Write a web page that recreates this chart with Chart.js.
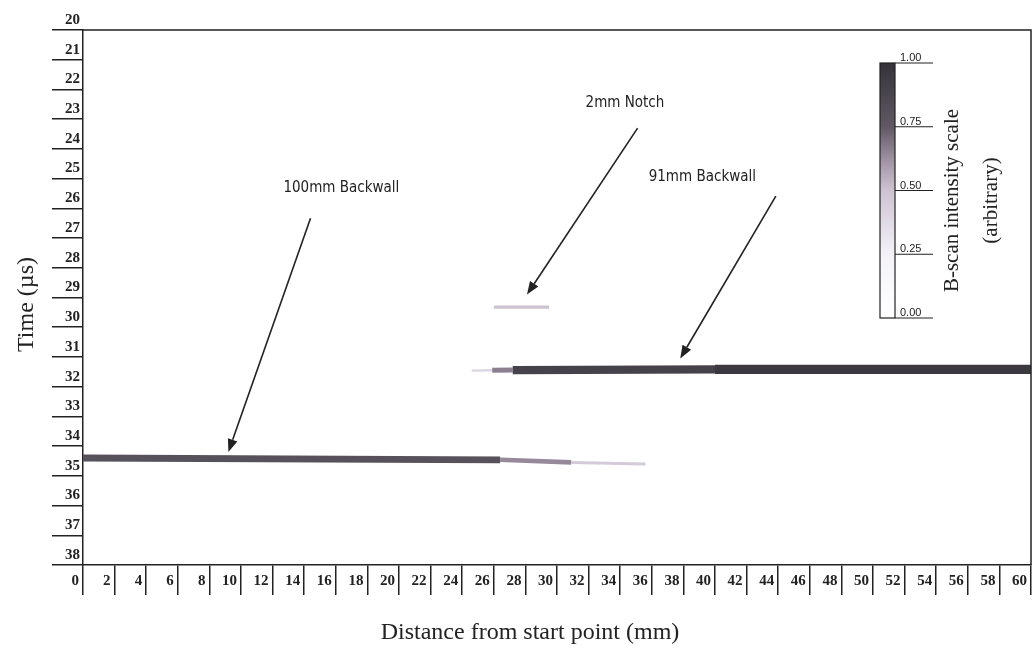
<!DOCTYPE html>
<html>
<head>
<meta charset="utf-8">
<script src="https://cdn.jsdelivr.net/npm/chart.js@4.4.1/dist/chart.umd.min.js"></script>
<style>
  html, body { margin: 0; padding: 0; background: #fff; }
  #wrap { width: 1036px; height: 657px; }
</style>
</head>
<body>
<div id="wrap"><canvas id="bscan"></canvas></div>
<script>
// axis ticks
const distTicks = [0,2,4,6,8,10,12,14,16,18,20,22,24,26,28,30,32,34,36,38,40,42,44,46,48,50,52,54,56,58,60];
const timeTicks = [20,21,22,23,24,25,26,27,28,29,30,31,32,33,34,35,36,37,38];
const intensityTicks = [0, 0.25, 0.5, 0.75, 1];
const intensityLabels = ['0.00', '0.25', '0.50', '0.75', '1.00'];

// echoes: distance (mm), time (us), intensity of each segment
const wall100Dist = [0, 26.4, 30.9, 35.6];
const wall100Time = [34.40, 34.46, 34.55, 34.60];
const wall100Amp = [0.8, 0.64, 0.46];

const wall91Dist = [24.6, 25.9, 27.2, 40.0, 60.0];
const wall91Time = [31.46, 31.45, 31.44, 31.42, 31.42];
const wall91Amp = [0.4, 0.66, 0.9, 0.96];

const notchDist = [26.0, 29.5];
const notchTime = [29.32, 29.32];
const notchAmp = [0.5];

// annotations: label position, arrow start, arrow tip (mm, us)
const noteText = ['100mm Backwall', '2mm Notch', '91mm Backwall'];
const noteAt = [[16.35, 25.32], [34.3, 22.46], [39.2, 24.95]];
const noteFrom = [[14.4, 26.33], [35.1, 23.3], [43.85, 25.59]];
const noteTo = [[9.2, 34.2], [28.1, 28.9], [37.8, 31.05]];

// grey/violet colour map of the B-scan
const cmapStops = [
  [0, [255, 255, 255]],
  [0.25, [244, 242, 248]],
  [0.5, [205, 195, 211]],
  [0.62, [160, 146, 164]],
  [0.75, [96, 88, 100]],
  [1, [52, 51, 56]]
];
function cmap(v) {
  for (let i = 1; i < cmapStops.length; i++) {
    if (v <= cmapStops[i][0]) {
      const [a, ca] = cmapStops[i - 1], [b, cb] = cmapStops[i];
      const t = (v - a) / (b - a);
      const c = ca.map((q, k) => Math.round(q + (cb[k] - q) * t));
      return `rgb(${c[0]},${c[1]},${c[2]})`;
    }
  }
  return 'rgb(52,51,56)';
}

const widthOf = a => 1 + 9 * a * a;

function echo(dist, time, amp) {
  return {
    data: dist.map((d, i) => ({ x: d, y: time[i] })),
    borderColor: cmap(amp[0]),
    borderWidth: widthOf(amp[0]),
    borderCapStyle: 'butt',
    pointRadius: 0,
    tension: 0,
    segment: {
      borderColor: c => cmap(amp[c.p0DataIndex]),
      borderWidth: c => widthOf(amp[c.p0DataIndex])
    }
  };
}

const serif = "'Liberation Serif', 'DejaVu Serif', serif";
const narrow = "'DejaVu Sans Condensed', 'Liberation Sans', sans-serif";

const decorPlugin = {
  id: 'decor',
  afterDraw: (chart) => {
    const { ctx, chartArea: { left, right, top, bottom }, scales: { x, y } } = chart;
    ctx.save();
    ctx.strokeStyle = '#222';
    ctx.lineWidth = 1.5;
    // top and right frame
    ctx.beginPath();
    ctx.moveTo(left, top);
    ctx.lineTo(right, top);
    ctx.lineTo(right, bottom);
    ctx.stroke();

    // annotations with arrows
    ctx.fillStyle = '#222';
    ctx.font = "15px " + narrow;
    ctx.textAlign = 'center';
    ctx.textBaseline = 'middle';
    noteText.forEach((t, i) => {
      ctx.fillText(t, x.getPixelForValue(noteAt[i][0]), y.getPixelForValue(noteAt[i][1]));
      const x0 = x.getPixelForValue(noteFrom[i][0]), y0 = y.getPixelForValue(noteFrom[i][1]);
      const x1 = x.getPixelForValue(noteTo[i][0]), y1 = y.getPixelForValue(noteTo[i][1]);
      const ang = Math.atan2(y1 - y0, x1 - x0);
      const hl = 13, hw = 5;
      ctx.lineWidth = 1.6;
      ctx.beginPath();
      ctx.moveTo(x0, y0);
      ctx.lineTo(x1 - hl * Math.cos(ang), y1 - hl * Math.sin(ang));
      ctx.stroke();
      ctx.beginPath();
      ctx.moveTo(x1, y1);
      ctx.lineTo(x1 - hl * Math.cos(ang) + hw * Math.sin(ang), y1 - hl * Math.sin(ang) - hw * Math.cos(ang));
      ctx.lineTo(x1 - hl * Math.cos(ang) - hw * Math.sin(ang), y1 - hl * Math.sin(ang) + hw * Math.cos(ang));
      ctx.closePath();
      ctx.fill();
    });

    // intensity colour bar
    const bx = right - 151, bw = 15, by = top + 33, bh = 255;
    const grad = ctx.createLinearGradient(0, by + bh, 0, by);
    for (let v = 0; v <= 1.0001; v += 0.05) grad.addColorStop(Math.min(v, 1), cmap(v));
    ctx.fillStyle = grad;
    ctx.fillRect(bx, by, bw, bh);
    ctx.lineWidth = 1.2;
    ctx.strokeRect(bx, by, bw, bh);
    ctx.font = "11px 'Liberation Sans', Arial, sans-serif";
    ctx.textAlign = 'left';
    ctx.textBaseline = 'alphabetic';
    ctx.fillStyle = '#222';
    intensityTicks.forEach((v, i) => {
      const py = by + bh - v * bh;
      ctx.beginPath();
      ctx.moveTo(bx + bw, py);
      ctx.lineTo(bx + bw + 38, py);
      ctx.stroke();
      ctx.fillText(intensityLabels[i], bx + bw + 5, py - 2);
    });
    ctx.font = "21px " + serif;
    ctx.textAlign = 'center';
    ctx.textBaseline = 'middle';
    ctx.translate(bx + 72, by + bh / 2 + 10);
    ctx.rotate(-Math.PI / 2);
    ctx.fillText('B-scan intensity scale', 0, 0);
    ctx.fillText('(arbitrary)', 0, 39);
    ctx.restore();

    // axis titles
    ctx.save();
    ctx.fillStyle = '#222';
    ctx.font = "24px " + serif;
    ctx.textAlign = 'center';
    ctx.textBaseline = 'middle';
    ctx.fillText('Distance from start point (mm)', left + 447, bottom + 68);
    ctx.translate(27, (top + bottom) / 2 + 7);
    ctx.rotate(-Math.PI / 2);
    ctx.fillText('Time (\u00b5s)', 0, 0);
    ctx.restore();
  }
};

new Chart(document.getElementById('bscan'), {
  type: 'line',
  data: {
    datasets: [
      echo(wall100Dist, wall100Time, wall100Amp),
      echo(wall91Dist, wall91Time, wall91Amp),
      echo(notchDist, notchTime, notchAmp)
    ]
  },
  options: {
    responsive: true,
    maintainAspectRatio: false,
    animation: false,
    layout: { padding: { left: 0, top: 30, right: 5, bottom: 0 } },
    plugins: { legend: { display: false }, tooltip: { enabled: false } },
    scales: {
      x: {
        type: 'linear',
        min: 0,
        max: 60,
        afterBuildTicks: s => { s.ticks = distTicks.map(v => ({ value: v })); },
        afterFit: s => { s.height = 92; },
        border: { display: true, color: '#222', width: 1.5 },
        grid: { drawOnChartArea: false, drawTicks: true, tickLength: 30, color: '#222', lineWidth: 1.5 },
        ticks: {
          autoSkip: false,
          maxRotation: 0,
          align: 'end',
          labelOffset: -4,
          padding: -23,
          color: '#222',
          font: { family: serif, size: 15, weight: 'bold' }
        }
      },
      y: {
        type: 'linear',
        reverse: true,
        min: 20,
        max: 38,
        afterBuildTicks: s => { s.ticks = timeTicks.map(v => ({ value: v })); },
        afterFit: s => { s.width = 83; },
        border: { display: true, color: '#222', width: 1.5 },
        grid: { drawOnChartArea: false, drawTicks: true, tickLength: 31, color: '#222', lineWidth: 1.5 },
        ticks: {
          autoSkip: false,
          labelOffset: -10,
          padding: -28,
          color: '#222',
          font: { family: serif, size: 15, weight: 'bold' }
        }
      }
    }
  },
  plugins: [decorPlugin]
});
</script>
</body>
</html>
